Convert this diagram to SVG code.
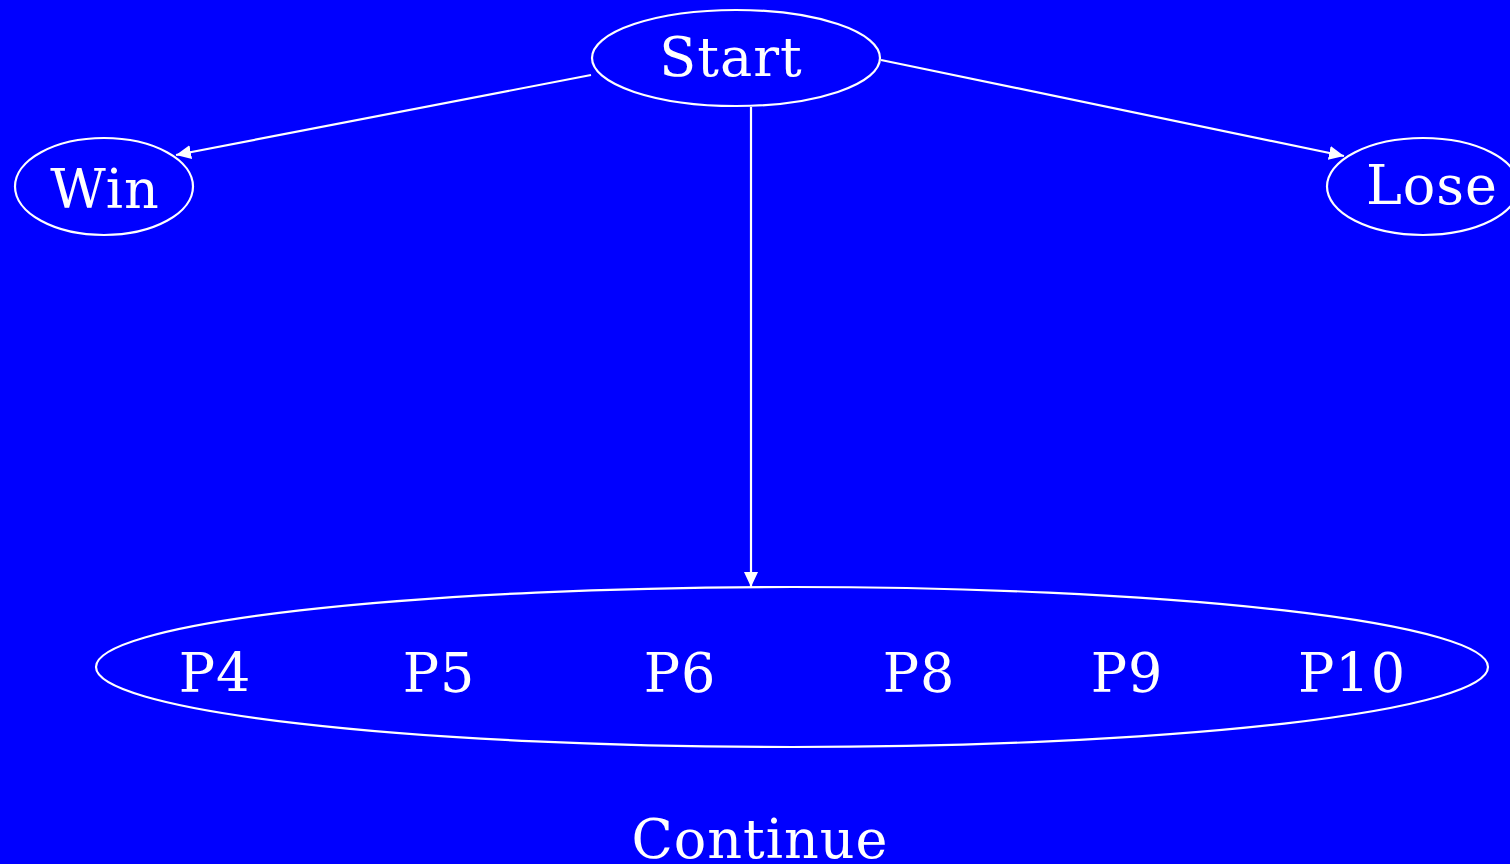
<svg xmlns="http://www.w3.org/2000/svg" width="1510" height="864" viewBox="0 0 1510 864">
<style>
.n{fill:none;stroke:#fff;stroke-width:2.2}
.t{fill:#fff;font-family:"DejaVu Serif",serif;font-size:54px;letter-spacing:1px}
.e{stroke:#fff;stroke-width:2.2;fill:none}
</style>
<defs>
<marker id="ah" viewBox="0 0 15 14" refX="15" refY="7" markerWidth="15" markerHeight="14" markerUnits="userSpaceOnUse" orient="auto"><path d="M0,0 L15,7 L0,14 z" fill="#fff"/></marker>
</defs>
<rect width="1510" height="864" fill="#0000ff"/>
<g id="connectors">
<line class="e" x1="591" y1="75" x2="176" y2="155" marker-end="url(#ah)"/>
<line class="e" x1="881" y1="60" x2="1344" y2="156" marker-end="url(#ah)"/>
<line class="e" x1="751" y1="107" x2="751" y2="587" marker-end="url(#ah)"/>
</g>
<g id="start">
<ellipse class="n" cx="736" cy="58" rx="144" ry="48"/>
<text class="t" x="731" y="76" text-anchor="middle">Start</text>
</g>
<g id="win">
<ellipse class="n" cx="104" cy="186.5" rx="89" ry="48.5"/>
<text class="t" x="105" y="208" text-anchor="middle">Win</text>
</g>
<g id="lose">
<ellipse class="n" cx="1423" cy="186.5" rx="96" ry="48.5"/>
<text class="t" x="1432" y="204" text-anchor="middle">Lose</text>
</g>
<g id="continue">
<ellipse class="n" cx="792" cy="667" rx="696" ry="80"/>
<text class="t" x="215" y="692" text-anchor="middle">P4</text>
<text class="t" x="439" y="692" text-anchor="middle">P5</text>
<text class="t" x="680" y="692" text-anchor="middle">P6</text>
<text class="t" x="919" y="692" text-anchor="middle">P8</text>
<text class="t" x="1127" y="692" text-anchor="middle">P9</text>
<text class="t" x="1352" y="692" text-anchor="middle">P10</text>
<text class="t" x="760" y="858" text-anchor="middle">Continue</text>
</g>
</svg>
